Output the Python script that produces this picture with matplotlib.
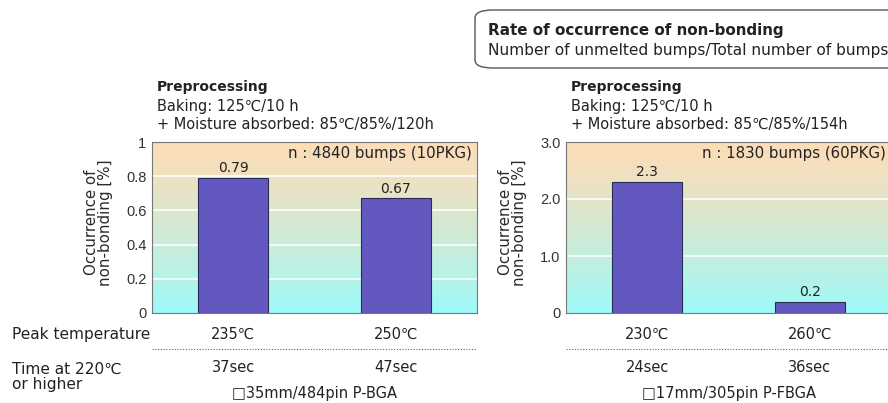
import numpy as np
import matplotlib
matplotlib.use("Agg")
import matplotlib.pyplot as plt
from matplotlib.patches import FancyBboxPatch

plt.rcParams['font.family'] = ['DejaVu Sans']

# data
left_vals = [0.79, 0.67]
left_labels = ["0.79", "0.67"]
left_peak = ["235℃", "250℃"]
left_time = ["37sec", "47sec"]
left_yticks = [0, 0.2, 0.4, 0.6, 0.8, 1]
left_yticklabels = ["0", "0.2", "0.4", "0.6", "0.8", "1"]

right_vals = [2.3, 0.2]
right_labels = ["2.3", "0.2"]
right_peak = ["230℃", "260℃"]
right_time = ["24sec", "36sec"]
right_yticks = [0, 1.0, 2.0, 3.0]
right_yticklabels = ["0", "1.0", "2.0", "3.0"]

bar_color = "#6358c0"
top_col = np.array([252, 221, 184]) / 255.0
bot_col = np.array([158, 250, 249]) / 255.0
txt = '#222222'


def draw_panel(ax, vals, labels, ymax, yticks, yticklabels, n_text, pre_lines, peak, time, pkg):
    x = np.arange(len(vals))
    t = np.linspace(0, 1, 256)[:, None] ** 1.25
    grad = (top_col[None, :] * (1 - t) + bot_col[None, :] * t)[:, None, :]
    ax.imshow(grad, extent=[-0.5, 1.5, 0, ymax], aspect='auto', zorder=0)
    for yt in yticks[1:-1]:
        ax.axhline(yt, color='white', lw=1.3, alpha=0.9, zorder=1)
    ax.bar(x, vals, width=0.43, color=bar_color, edgecolor='#2a2a55', lw=0.8, zorder=2)
    for xi, v, lab in zip(x, vals, labels):
        ax.text(xi, v + ymax * 0.015, lab, ha='center', va='bottom', fontsize=10, color=txt)
    ax.set_xlim(-0.5, 1.5)
    ax.set_ylim(0, ymax)
    ax.set_yticks(yticks)
    ax.set_yticklabels(yticklabels, fontsize=10.5, color='#333333', family='Liberation Sans')
    ax.set_xticks([])
    ax.tick_params(axis='y', length=0, pad=4)
    for s in ax.spines.values():
        s.set_color('#777777')
        s.set_linewidth(0.8)
    ax.set_ylabel("Occurrence of\nnon-bonding [%]", fontsize=10.8, color='#2a2a2a', linespacing=0.92)
    ax.yaxis.set_label_coords(-0.12, 0.53)
    ax.text(0.985, 0.975, n_text, transform=ax.transAxes, ha='right', va='top', fontsize=10.8, color=txt)
    ax.text(0.015, 1.32, pre_lines[0], transform=ax.transAxes, ha='left', va='center', fontsize=10,
            fontweight='bold', color=txt)
    ax.text(0.015, 1.21, pre_lines[1], transform=ax.transAxes, ha='left', va='center', fontsize=10.5, color=txt)
    ax.text(0.015, 1.10, pre_lines[2], transform=ax.transAxes, ha='left', va='center', fontsize=10.5, color=txt)
    trans = ax.get_xaxis_transform()
    for xi, p, tm in zip(x, peak, time):
        ax.text(xi, -0.125, p, transform=trans, ha='center', va='center', fontsize=10.5, color=txt)
        ax.text(xi, -0.32, tm, transform=trans, ha='center', va='center', fontsize=10.5, color=txt)
    ax.plot([0, 1], [-0.21, -0.21], transform=ax.transAxes, ls=(0, (1, 1.5)), color='#666666', lw=0.8,
            clip_on=False)
    ax.text(0.5, -0.47, pkg, transform=ax.transAxes, ha='center', va='center', fontsize=10.5, color=txt)


fig = plt.figure(figsize=(8.88, 4.03), dpi=100)
ax1 = fig.add_axes([152 / 888, 1 - 313 / 403, 325 / 888, 171 / 403])
ax2 = fig.add_axes([566 / 888, 1 - 313 / 403, 325 / 888, 171 / 403])

draw_panel(ax1, left_vals, left_labels, 1.0, left_yticks, left_yticklabels, "n : 4840 bumps (10PKG)",
           ["Preprocessing", "Baking: 125℃/10 h", "+ Moisture absorbed: 85℃/85%/120h"],
           left_peak, left_time, "□35mm/484pin P-BGA")
draw_panel(ax2, right_vals, right_labels, 3.0, right_yticks, right_yticklabels, "n : 1830 bumps (60PKG)",
           ["Preprocessing", "Baking: 125℃/10 h", "+ Moisture absorbed: 85℃/85%/154h"],
           right_peak, right_time, "□17mm/305pin P-FBGA")

fig.text(12 / 888, 1 - 334 / 403, "Peak temperature", ha='left', va='center', fontsize=11.1, color=txt)
fig.text(12 / 888, 1 - 377 / 403, "Time at 220℃\nor higher", ha='left', va='center', fontsize=11.1,
         color=txt, linespacing=1.05)

box = FancyBboxPatch((475 / 888, 1 - 68 / 403), 430 / 888, 58 / 403,
                     boxstyle="round,pad=0,rounding_size=0.02", transform=fig.transFigure,
                     facecolor='white', edgecolor='#555555', lw=1.0)
fig.patches.append(box)
fig.text(488 / 888, 1 - 30 / 403, "Rate of occurrence of non-bonding", ha='left', va='center',
         fontsize=10.9, fontweight='bold', color=txt)
fig.text(488 / 888, 1 - 50 / 403, "Number of unmelted bumps/Total number of bumps", ha='left', va='center',
         fontsize=11.1, color=txt)

fig.savefig("out.png", dpi=100)
